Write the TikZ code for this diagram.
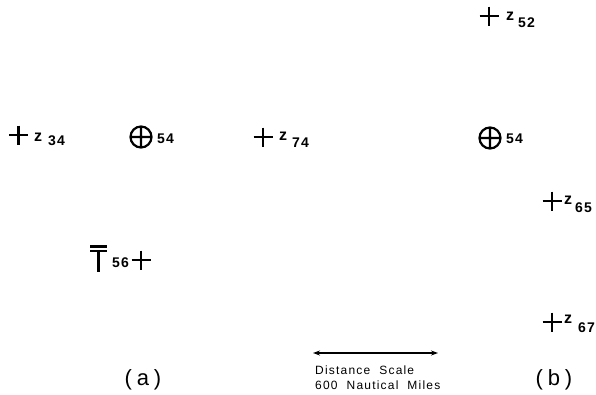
\documentclass[tikz,border=0pt]{standalone}
\usepackage{fontspec}
\setmainfont{Liberation Sans}
\newfontfamily\labfont[LetterSpace=8]{Liberation Sans}
\newfontfamily\scalefont[LetterSpace=10,WordSpace=2]{Liberation Sans}
\newfontfamily\panelfont[LetterSpace=22]{Liberation Sans}
\usetikzlibrary{arrows.meta}
\begin{document}
\begin{tikzpicture}[x=1pt,y=-1pt,
  lbl/.style={inner sep=0pt,anchor=base west,font=\labfont\bfseries\fontsize{14}{14}\selectfont},
  zlbl/.style={inner sep=0pt,anchor=base west,font=\labfont\bfseries\fontsize{16}{16}\selectfont},
  scaletext/.style={inner sep=0pt,anchor=base west,font=\scalefont\fontsize{12}{12}\selectfont},
  paneltext/.style={inner sep=0pt,anchor=base,font=\panelfont\fontsize{22}{22}\selectfont},
  plusmark/.pic={\draw[line width=2.3pt] (-9.5,0)--(9.5,0) (0,-9.5)--(0,9.5);},
  circmark/.pic={\draw[line width=2.2pt] (0,0) circle[radius=10.5] (-11,0)--(11,0) (0,-11)--(0,11);}]
\useasboundingbox (0,0) rectangle (596,394);
% panel (a)
\pic at (18.5,135) {plusmark};
\node[zlbl] (za) at (34,141) {z};
\node[lbl] (n34) at (48,145) {34};
\pic at (141,137) {circmark};
\node[lbl] (n54a) at (157,143) {54};
\draw[line width=2.2pt] (90,246.5)--(107,246.5) (90,251)--(107,251) (98.5,251)--(98.5,272);
\node[lbl] (n56) at (112,267) {56};
\pic at (141,260) {plusmark};
\pic at (263,137) {plusmark};
\node[zlbl] (zb) at (279,140) {z};
\node[lbl] (n74) at (292,147) {74};
% panel (b)
\pic at (489,16) {plusmark};
\node[zlbl] (zc) at (506,20) {z};
\node[lbl] (n52) at (518,27) {52};
\pic at (490,138) {circmark};
\node[lbl] (n54b) at (506,143) {54};
\pic at (552,201) {plusmark};
\node[zlbl] (zd) at (564,204) {z};
\node[lbl] (n65) at (575,212) {65};
\pic at (552,322) {plusmark};
\node[zlbl] (ze) at (564,323) {z};
\node[lbl] (n67) at (578,332) {67};
% scale
\coordinate (sl) at (313,353);
\coordinate (sr) at (438,353);
\draw[line width=1.4pt,{Stealth[length=7pt,width=5pt]}-{Stealth[length=7pt,width=5pt]}] (sl) -- (sr);
\node[scaletext] (ds) at (315,374) {Distance Scale};
\node[scaletext] (nm) at (315,389) {600 Nautical Miles};
\node[paneltext] (pa) at (143,385) {(a)};
\node[paneltext] (pb) at (554,385) {(b)};
\end{tikzpicture}
\end{document}
